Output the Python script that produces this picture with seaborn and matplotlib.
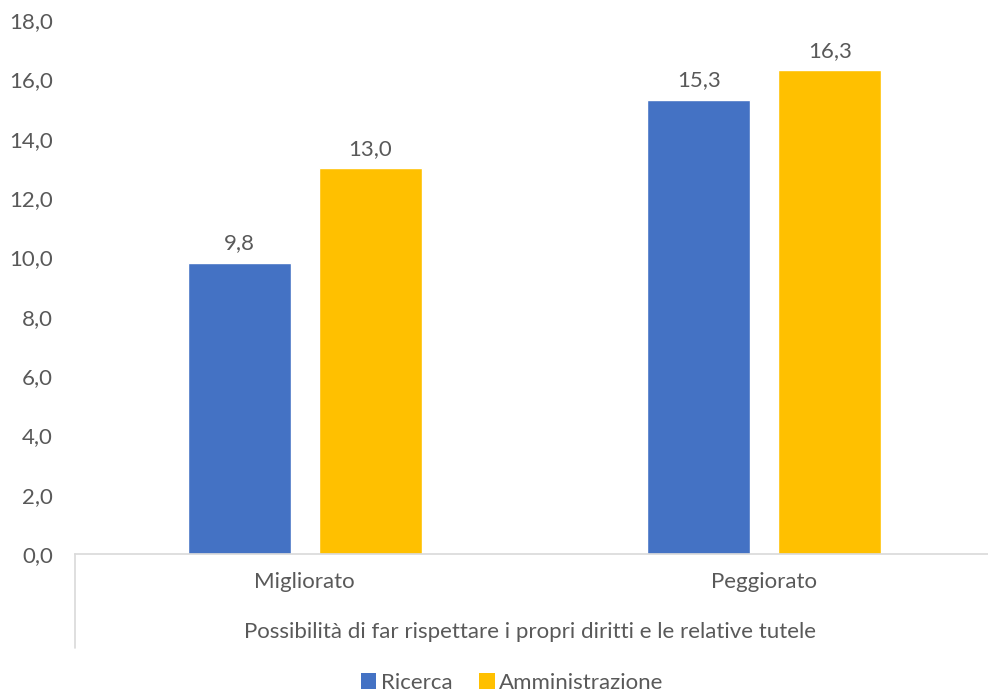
import matplotlib
matplotlib.use("Agg")
import matplotlib.pyplot as plt
import seaborn as sns
import pandas as pd
from matplotlib.patches import Patch
from matplotlib.lines import Line2D

categories = ["Migliorato", "Peggiorato"]
series = ["Ricerca", "Amministrazione"]
ricerca = [9.8, 15.3]
amministrazione = [13.0, 16.3]
group_label = "Possibilità di far rispettare i propri diritti e le relative tutele"
yticks = [0, 2, 4, 6, 8, 10, 12, 14, 16, 18]
colors = ["#4472C4", "#FFC000"]

df = pd.DataFrame({
    "cat": categories * 2,
    "serie": [series[0]] * len(categories) + [series[1]] * len(categories),
    "val": ricerca + amministrazione,
})

def fmt(v):
    return f"{v:.1f}".replace(".", ",")

sns.set_theme(style="white")
plt.rcParams["font.family"] = ["Lato", "DejaVu Sans"]
txt = "#595959"
fs = 16

W, H = 988, 694
fig = plt.figure(figsize=(W / 100, H / 100), dpi=100)
ax = fig.add_axes([75 / W, (H - 554) / H, (994 - 75) / W, 534 / H])

sns.barplot(data=df, x="cat", y="val", hue="serie", palette=colors,
            width=0.57, gap=0.21, saturation=1, ax=ax, legend=False)

ax.set_xlim(-0.5, 1.5)
ax.set_ylim(0, 18)
ax.set_yticks(yticks)
ax.set_yticklabels([fmt(v) for v in yticks], color=txt, fontsize=fs)
ax.set_xticks(range(len(categories)))
ax.set_xticklabels(categories, color=txt, fontsize=fs)
ax.tick_params(axis="y", length=0, pad=16)
ax.tick_params(axis="x", length=0, pad=13)
ax.set_xlabel("")
ax.set_ylabel("")
for s in ["left", "right", "top"]:
    ax.spines[s].set_visible(False)
ax.spines["bottom"].set_color("#D9D9D9")
ax.spines["bottom"].set_linewidth(1.2)

for cont in ax.containers:
    ax.bar_label(cont, labels=[fmt(b.get_height()) for b in cont],
                 padding=7, color=txt, fontsize=fs)

fig.text(530 / W, 1 - 632 / H, group_label, ha="center", va="center",
         color=txt, fontsize=fs)
fig.add_artist(Line2D([75 / W, 75 / W], [1 - 554 / H, 1 - 648 / H],
                      transform=fig.transFigure, color="#D9D9D9", lw=1.2))

handles = [Patch(facecolor=c, edgecolor="none", label=s) for c, s in zip(colors, series)]
fig.legend(handles=handles, loc="center", bbox_to_anchor=(512 / W, 1 - 683 / H),
           ncol=2, frameon=False, fontsize=fs, labelcolor=txt,
           handlelength=0.7, handleheight=0.7, handletextpad=0.2,
           columnspacing=1.2)

fig.savefig("out.png", dpi=100)
